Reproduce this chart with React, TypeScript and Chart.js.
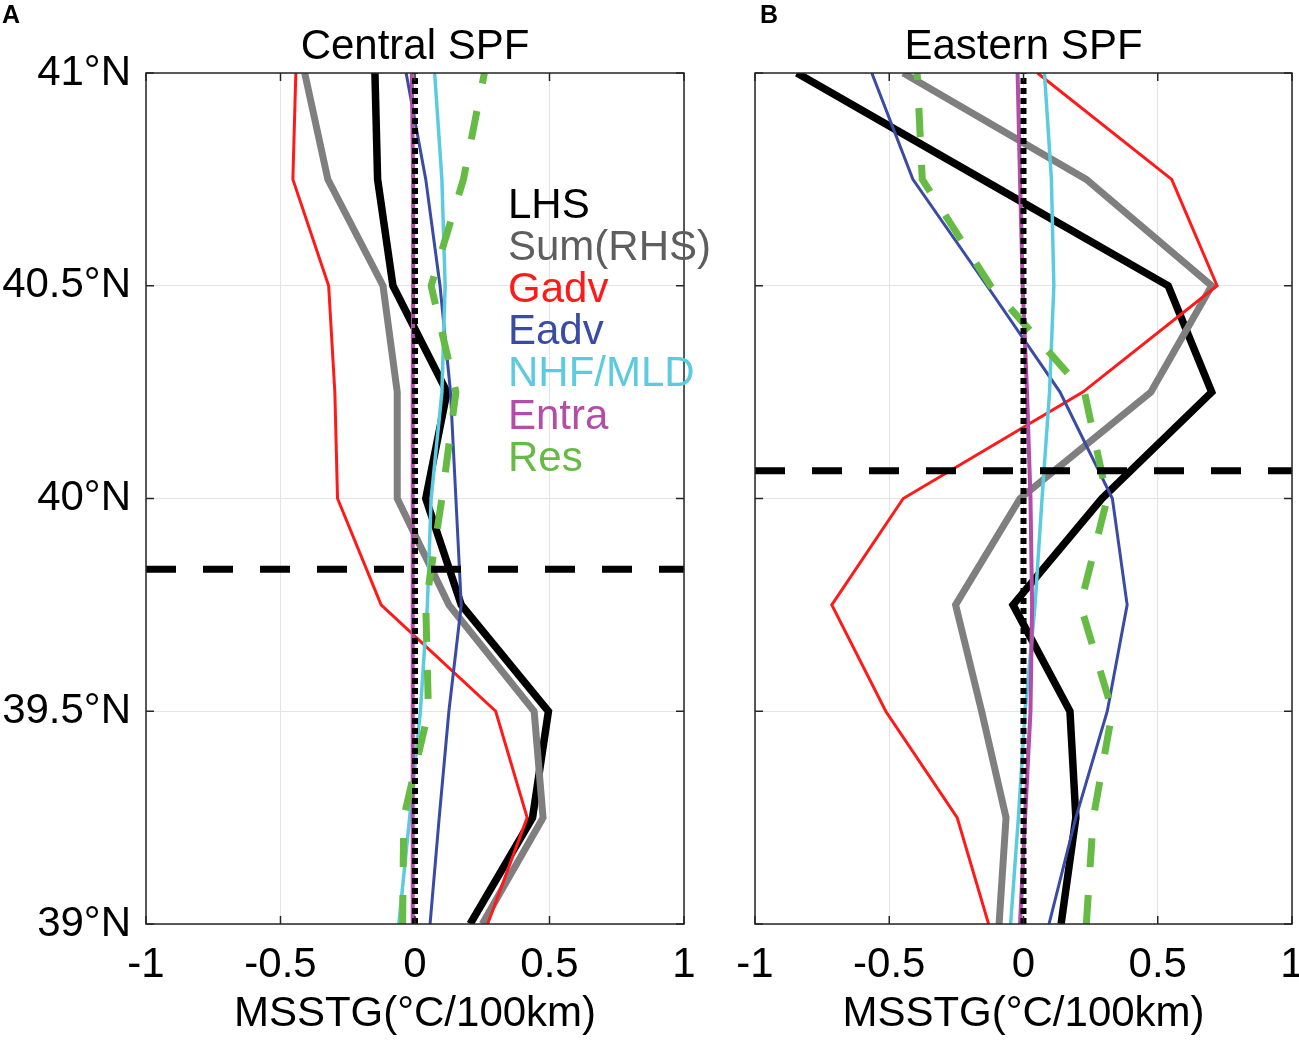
import React, { useEffect, useRef } from 'react';
import { Chart, registerables } from 'chart.js';

Chart.register(...registerables);

// latitude levels (°N), bottom to top
const latitudes = [39, 39.25, 39.5, 39.75, 40, 40.25, 40.5, 40.75, 41];
const xTicks = [-1, -0.5, 0, 0.5, 1];
const yTicks = [39, 39.5, 40, 40.5, 41];
const seriesNames = ['LHS', 'Sum(RHS)', 'Gadv', 'Eadv', 'NHF/MLD', 'Entra', 'Res'];

// Central SPF (°C/100km)
const lhsCentral = [0.205, 0.437, 0.496, 0.172, 0.04, 0.119, -0.082, -0.139, -0.149];
const sumCentral = [0.25, 0.476, 0.443, 0.126, -0.066, -0.066, -0.119, -0.324, -0.41];
const gadvCentral = [0.27, 0.417, 0.3, -0.126, -0.288, -0.298, -0.321, -0.454, -0.443];
const eadvCentral = [0.056, 0.09, 0.126, 0.172, 0.152, 0.132, 0.093, 0.04, -0.033];
const nhfCentral = [-0.06, -0.02, 0.02, 0.046, 0.06, 0.1, 0.112, 0.1, 0.073];
const entraCentral = [-0.01, -0.01, -0.008, -0.008, -0.008, -0.008, -0.007, -0.007, -0.012];
const resCentral = [-0.046, -0.042, 0.05, 0.04, 0.1, 0.152, 0.06, 0.18, 0.258];
const frontCentral = 39.834;

// Eastern SPF (°C/100km)
const lhsEastern = [0.14, 0.195, 0.173, -0.039, 0.292, 0.701, 0.539, -0.153, -0.844];
const sumEastern = [-0.091, -0.065, -0.156, -0.253, -0.013, 0.474, 0.701, 0.234, -0.448];
const gadvEastern = [-0.13, -0.247, -0.513, -0.714, -0.448, 0.221, 0.721, 0.552, 0.052];
const eadvEastern = [0.095, 0.195, 0.312, 0.386, 0.331, 0.136, -0.136, -0.412, -0.565];
const nhfEastern = [-0.048, -0.019, 0.006, 0.043, 0.069, 0.097, 0.113, 0.104, 0.078];
const entraEastern = [-0.013, 0.006, 0.026, 0.032, 0.026, 0.013, -0.003, -0.013, -0.022];
const resEastern = [0.234, 0.26, 0.331, 0.212, 0.312, 0.227, -0.123, -0.377, -0.396];
const frontEastern = 40.065;

const FONT = "'Liberation Sans', Arial, Helvetica, sans-serif";

const lineStyles = [
  { color: '#000000', text: '#000000', width: 7.5, dash: [] as number[] },
  { color: '#7f7f7f', text: '#5e5e5e', width: 7, dash: [] as number[] },
  { color: '#ff1a1a', text: '#ff1a1a', width: 3, dash: [] as number[] },
  { color: '#3a4ba6', text: '#3a4ba6', width: 3, dash: [] as number[] },
  { color: '#5ccbe0', text: '#5ccbe0', width: 3.5, dash: [] as number[] },
  { color: '#b24da8', text: '#b24da8', width: 4, dash: [] as number[] },
  { color: '#66bb44', text: '#66bb44', width: 7, dash: [29, 28] },
];

const toPoints = (vals: number[]) => vals.map((x, i) => ({ x, y: latitudes[i] }));

const framePlugin = {
  id: 'frame',
  afterDraw(chart: any, _args: any, opts: any) {
    const { ctx, chartArea: a, scales } = chart;
    ctx.save();
    // box
    ctx.strokeStyle = '#262626';
    ctx.lineWidth = 1.5;
    ctx.strokeRect(a.left, a.top, a.right - a.left, a.bottom - a.top);
    // inward ticks
    const tl = 8;
    ctx.beginPath();
    xTicks.forEach((v) => {
      const px = scales.x.getPixelForValue(v);
      ctx.moveTo(px, a.bottom); ctx.lineTo(px, a.bottom - tl);
      ctx.moveTo(px, a.top); ctx.lineTo(px, a.top + tl);
    });
    yTicks.forEach((v) => {
      const py = scales.y.getPixelForValue(v);
      ctx.moveTo(a.left, py); ctx.lineTo(a.left + tl, py);
      ctx.moveTo(a.right, py); ctx.lineTo(a.right - tl, py);
    });
    ctx.stroke();

    // title
    ctx.fillStyle = '#000';
    ctx.textBaseline = 'middle';
    ctx.textAlign = 'center';
    ctx.font = `42px ${FONT}`;
    ctx.fillText(opts.title, (a.left + a.right) / 2, a.top - 26);

    // panel letter
    ctx.textAlign = 'left';
    ctx.font = `bold 25px ${FONT}`;
    ctx.fillText(opts.letter, opts.letterX, 16);

    // legend
    if (opts.legend) {
      ctx.font = `42px ${FONT}`;
      seriesNames.forEach((name, i) => {
        ctx.fillStyle = lineStyles[i].text;
        ctx.fillText(name, a.left + 362, a.top + 133 + 42.2 * i);
      });
    }
    ctx.restore();
  },
};

interface PanelProps {
  series: number[][];
  front: number;
  title: string;
  letter: string;
  letterX: number;
  showYLabels: boolean;
  legend: boolean;
  width: number;
  axisWidth: number;
  padRight: number;
  left: number;
}

const Panel: React.FC<PanelProps> = (p) => {
  const canvasRef = useRef<HTMLCanvasElement>(null);
  const chartRef = useRef<Chart | null>(null);

  useEffect(() => {
    if (!canvasRef.current) return;
    if (chartRef.current) chartRef.current.destroy();
    const ctx = canvasRef.current.getContext('2d');
    if (!ctx) return;

    const datasets: any[] = p.series.map((vals, i) => ({
      label: seriesNames[i],
      data: toPoints(vals),
      showLine: true,
      borderColor: lineStyles[i].color,
      borderWidth: lineStyles[i].width,
      borderDash: lineStyles[i].dash,
      borderJoinStyle: 'miter',
      pointRadius: 0,
      tension: 0,
      fill: false,
      order: 8 - i,
    }));
    datasets.push({
      label: 'zero',
      data: [{ x: 0, y: yTicks[0] }, { x: 0, y: yTicks[yTicks.length - 1] }],
      showLine: true,
      borderColor: '#000000',
      borderWidth: 6,
      borderDash: [6, 4],
      pointRadius: 0,
      order: 1,
    });
    datasets.push({
      label: 'front',
      data: [{ x: xTicks[0], y: p.front }, { x: xTicks[xTicks.length - 1], y: p.front }],
      showLine: true,
      borderColor: '#000000',
      borderWidth: 7,
      borderDash: [30, 27],
      pointRadius: 0,
      order: 0,
    });

    chartRef.current = new Chart(ctx, {
      type: 'scatter',
      data: { datasets },
      plugins: [framePlugin],
      options: {
        responsive: false,
        animation: false,
        events: [],
        layout: { padding: { left: 0, top: 73, right: p.padRight, bottom: 0 } },
        plugins: {
          legend: { display: false },
          tooltip: { enabled: false },
          frame: { title: p.title, letter: p.letter, letterX: p.letterX, legend: p.legend },
        } as any,
        scales: {
          x: {
            type: 'linear',
            min: xTicks[0],
            max: xTicks[xTicks.length - 1],
            afterBuildTicks: (s: any) => { s.ticks = xTicks.map((v) => ({ value: v })); },
            afterFit: (s: any) => { s.height = 122; s.paddingLeft = 0; s.paddingRight = 0; },
            grid: { color: '#e4e4e4', lineWidth: 1, drawTicks: false },
            border: { display: false },
            ticks: {
              color: '#000',
              padding: 16,
              font: { family: FONT, size: 42 },
              maxRotation: 0,
              callback: (v: any) => String(v),
            },
            title: {
              display: true,
              text: 'MSSTG(°C/100km)',
              color: '#000',
              font: { family: FONT, size: 42 },
              padding: { top: 0, bottom: 6 },
            },
          },
          y: {
            type: 'linear',
            min: yTicks[0],
            max: yTicks[yTicks.length - 1],
            afterBuildTicks: (s: any) => { s.ticks = yTicks.map((v) => ({ value: v })); },
            afterFit: (s: any) => { s.width = p.axisWidth; s.paddingTop = 0; s.paddingBottom = 0; },
            grid: { color: '#e4e4e4', lineWidth: 1, drawTicks: false },
            border: { display: false },
            ticks: {
              display: p.showYLabels,
              color: '#000',
              padding: 15,
              font: { family: FONT, size: 42 },
              callback: (v: any) => `${v}°N`,
            },
          },
        },
      } as any,
    });

    return () => {
      if (chartRef.current) {
        chartRef.current.destroy();
        chartRef.current = null;
      }
    };
  }, [p]);

  return (
    <canvas
      ref={canvasRef}
      width={p.width}
      height={1046}
      style={{ position: 'absolute', left: p.left, top: 0, display: 'block' }}
    />
  );
};

const centralProps: PanelProps = {
  series: [lhsCentral, sumCentral, gadvCentral, eadvCentral, nhfCentral, entraCentral, resCentral],
  front: frontCentral,
  title: 'Central SPF',
  letter: 'A',
  letterX: 2,
  showYLabels: true,
  legend: true,
  width: 720,
  axisWidth: 146,
  padRight: 36,
  left: 0,
};

const easternProps: PanelProps = {
  series: [lhsEastern, sumEastern, gadvEastern, eadvEastern, nhfEastern, entraEastern, resEastern],
  front: frontEastern,
  title: 'Eastern SPF',
  letter: 'B',
  letterX: 40,
  showYLabels: false,
  legend: false,
  width: 579,
  axisWidth: 35,
  padRight: 7,
  left: 720,
};

export default function App() {
  return (
    <div style={{ position: 'absolute', left: 0, top: 0, width: 1299, height: 1046, overflow: 'hidden', background: '#fff' }}>
      <Panel {...centralProps} />
      <Panel {...easternProps} />
    </div>
  );
}
